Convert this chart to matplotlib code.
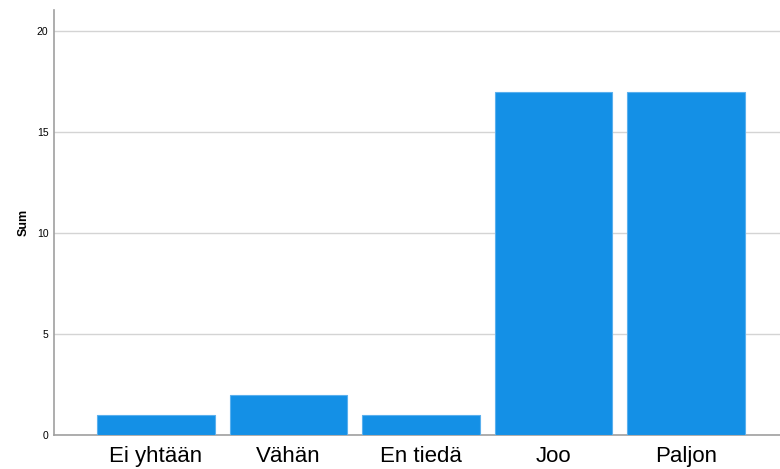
import matplotlib
matplotlib.use("Agg")
import matplotlib.pyplot as plt

categories = ["Ei yhtään", "Vähän", "En tiedä", "Joo", "Paljon"]
values = [1, 2, 1, 17, 17]
yticks = [0, 5, 10, 15, 20]

plt.rcParams['font.family'] = ['Liberation Sans', 'DejaVu Sans']

fig = plt.figure(figsize=(7.8, 4.69), dpi=100)
ax = fig.add_axes([54/780, 1-435/469, 1-54/780, (435-10)/469])

x = list(range(len(categories)))
ax.bar(x, values, width=0.89, color='#1490E6', edgecolor='#5AB0EE', linewidth=0.8, zorder=3)

ax.set_xlim(-0.77, 4.71)
ax.set_ylim(0, 21.05)
ax.set_yticks(yticks)
ax.set_yticklabels([str(v) for v in yticks], fontsize=7.5)
ax.set_xticks(x)
ax.set_xticklabels(categories, fontsize=16)
ax.tick_params(axis='both', length=0)
ax.tick_params(axis='y', pad=4)
ax.tick_params(axis='x', pad=8)
ax.grid(axis='y', color='#D4D4D4', linewidth=1, zorder=0)
for s in ['top', 'right']:
    ax.spines[s].set_visible(False)
for s in ['left', 'bottom']:
    ax.spines[s].set_color('#A0A0A0')
    ax.spines[s].set_linewidth(1.2)
ax.set_ylabel('Sum', fontsize=9, fontweight='bold', labelpad=5)

fig.savefig('out.png', dpi=100)
